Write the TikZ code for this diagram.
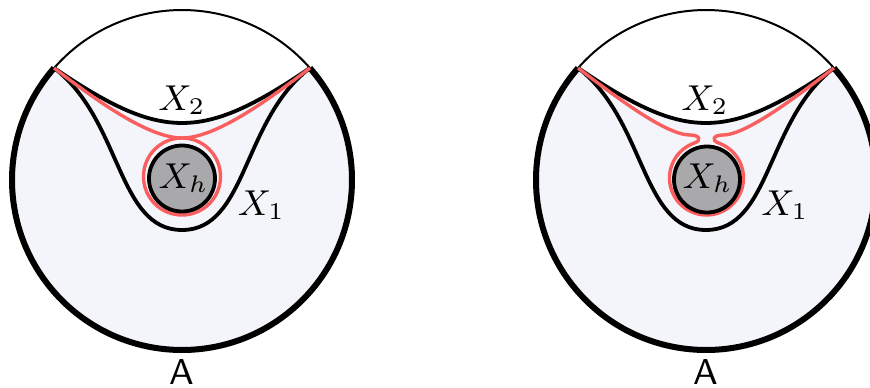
\documentclass[tikz,border=0pt]{standalone}
\definecolor{regfill}{RGB}{244,245,251}
\definecolor{holefill}{RGB}{169,169,171}
\definecolor{redline}{RGB}{250,95,95}
\tikzset{
  thinarc/.style={line width=0.5pt},
  thickarc/.style={line width=1.5pt},
  blackcurve/.style={line width=0.95pt},
  redcurve/.style={line width=0.85pt, draw=redline},
  holecircle/.style={line width=0.95pt, fill=holefill},
  lab/.style={font=\fontsize{9}{11}\selectfont, inner sep=0pt, anchor=base},
  alab/.style={font=\fontsize{9}{11}\selectfont\sffamily, inner sep=0pt, anchor=base},
}
\begin{document}
\begin{tikzpicture}[x=0.25pt,y=-0.25pt]
\useasboundingbox (0,0) rectangle (870,387);

% ---------------- left diagram ----------------
\begin{scope}[shift={(182,180)}]
  \coordinate (L1) at (-138.8:170);
  \coordinate (R1) at (-41.2:170);
  \fill[regfill] (R1) arc[start angle=-41.2, end angle=221.2, radius=170]
     .. controls (-20,-38.7) and (20,-38.7) .. (R1) -- cycle;
  \draw[thinarc] (L1) arc[start angle=221.2, end angle=318.8, radius=170];
  \draw[thickarc] (R1) arc[start angle=-41.2, end angle=221.2, radius=170];
  \draw[blackcurve] (L1) .. controls (-20,-38.7) and (20,-38.7) .. (R1);
  \draw[blackcurve] (L1) .. controls (-60,-60) and (-65,50) .. (0,50)
     .. controls (65,50) and (60,-60) .. (R1);
  \draw[redcurve] (L1) .. controls (-90,-83) and (-35,-42) .. (0,-42)
     .. controls (35,-42) and (90,-83) .. (R1);
  \draw[redcurve] (0,-3.5) circle[radius=38.5];
  \draw[holecircle] (0,-1.5) circle[radius=33];
  \node[lab] (x2a) at (0,-70) {$X_2$};
  \node[lab] (xha) at (1.5,8) {$X_h$};
  \node[lab] (x1a) at (79.5,35) {$X_1$};
  \node[alab] (aa) at (0,204) {A};
\end{scope}

% ---------------- right diagram ----------------
\begin{scope}[shift={(706,180)}]
  \coordinate (L2) at (-138.8:170);
  \coordinate (R2) at (-41.2:170);
  \fill[regfill] (R2) arc[start angle=-41.2, end angle=221.2, radius=170]
     .. controls (-20,-38.7) and (20,-38.7) .. (R2) -- cycle;
  \draw[thinarc] (L2) arc[start angle=221.2, end angle=318.8, radius=170];
  \draw[thickarc] (R2) arc[start angle=-41.2, end angle=221.2, radius=170];
  \draw[blackcurve] (L2) .. controls (-20,-38.7) and (20,-38.7) .. (R2);
  \draw[blackcurve] (L2) .. controls (-60,-60) and (-65,50) .. (0,50)
     .. controls (65,50) and (60,-60) .. (R2);
  \draw[redcurve] (L2) .. controls (-90,-83) and (-40,-45) .. (-16,-45)
     .. controls (-7,-45) and (-3.2,-40) .. (-12.15,-36.77)
     arc[start angle=250, end angle=-70, radius=37]
     .. controls (4.2,-40) and (8,-45) .. (17,-45)
     .. controls (40,-45) and (90,-83) .. (R2);
  \draw[holecircle] (1,-0.5) circle[radius=33];
  \node[lab] (x2b) at (-1,-70) {$X_2$};
  \node[lab] (xhb) at (1.5,8) {$X_h$};
  \node[lab] (x1b) at (79,35) {$X_1$};
  \node[alab] (ab) at (0,204) {A};
\end{scope}
\end{tikzpicture}
\end{document}
